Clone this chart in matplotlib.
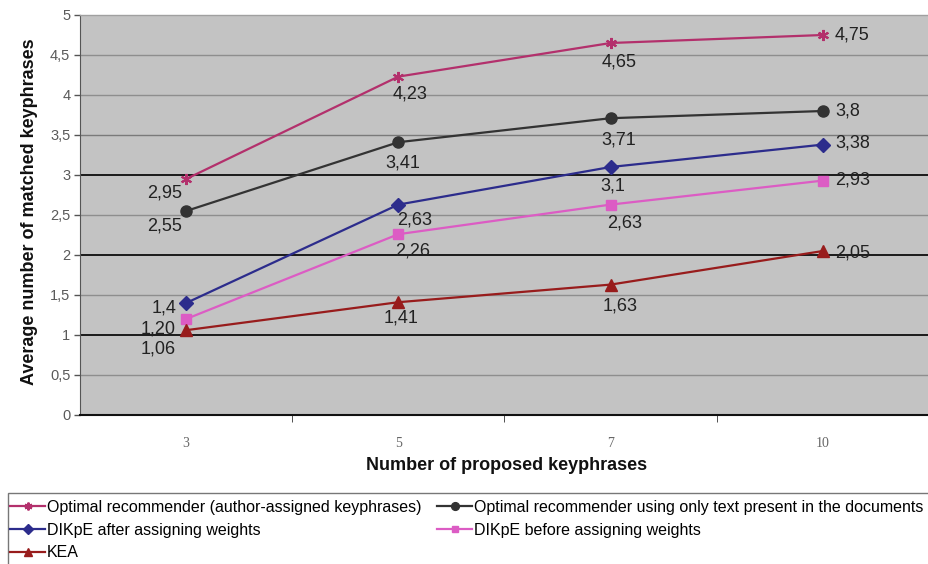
import matplotlib.pyplot as plt
from matplotlib.patches import Rectangle

plt.rcParams['font.family'] = ['Liberation Sans', 'DejaVu Sans']

# number of proposed keyphrases (categorical axis)
categories = ["3", "5", "7", "10"]

series_names = [
    "Optimal recommender (author-assigned keyphrases)",
    "Optimal recommender using only text present in the documents",
    "DIKpE after assigning weights",
    "DIKpE before assigning weights",
    "KEA",
]
optimal_author = [2.95, 4.23, 4.65, 4.75]
optimal_text = [2.55, 3.41, 3.71, 3.8]
dikpe_after = [1.4, 2.63, 3.1, 3.38]
dikpe_before = [1.20, 2.26, 2.63, 2.93]
kea = [1.06, 1.41, 1.63, 2.05]

# printed labels (some keep a trailing zero)
labels_author = ["2,95", "4,23", "4,65", "4,75"]
labels_text = ["2,55", "3,41", "3,71", "3,8"]
labels_after = ["1,4", "2,63", "3,1", "3,38"]
labels_before = ["1,20", "2,26", "2,63", "2,93"]
labels_kea = ["1,06", "1,41", "1,63", "2,05"]

colors = ["#b3306c", "#333333", "#2c2c8c", "#dc5cc4", "#981c1c"]
markers = [(6, 2, 0), "o", "D", "s", "^"]
msizes = [8, 8, 7, 6.5, 8]

# label placement in pixels (dx, dy downward, horizontal alignment)
offsets = [
    [(-22, 14, "center"), (12, 17, "center"), (8, 19, "center"), (12, 0, "left")],
    [(-22, 15, "center"), (4, 21, "center"), (8, 22, "center"), (12, 0, "left")],
    [(-10, 5, "right"), (16, 15, "center"), (2, 19, "center"), (12, -2, "left")],
    [(-10, 10, "right"), (14, 17, "center"), (14, 18, "center"), (12, -1, "left")],
    [(-10, 19, "right"), (3, 16, "center"), (10, 21, "center"), (12, 2, "left")],
]

values = [optimal_author, optimal_text, dikpe_after, dikpe_before, kea]
labels = [labels_author, labels_text, labels_after, labels_before, labels_kea]

fig = plt.figure(figsize=(9.29, 5.64), dpi=100)
ax = fig.add_axes([80 / 929, 149 / 564, 849 / 929, 400 / 564])
ax.set_facecolor("#c3c3c3")

x = range(len(categories))
handles = []
for vals, labs, offs, name, c, m, ms in zip(values, labels, offsets, series_names,
                                            colors, markers, msizes):
    h, = ax.plot(x, vals, color=c, lw=1.6, marker=m, markersize=ms,
                 markeredgewidth=1.5 if m == (6, 2, 0) else 1,
                 markerfacecolor=c, markeredgecolor=c, label=name, zorder=3)
    handles.append(h)
    for xi, v, lab, (dx, dy, ha) in zip(x, vals, labs, offs):
        ax.annotate(lab, (xi, v), xytext=(dx, -dy), textcoords="offset pixels",
                    ha=ha, va="center", fontsize=13, color="#222222", zorder=4)

ax.set_xlim(-0.5, 3.5)
ax.set_ylim(0, 5)

# horizontal gridlines: dark at whole numbers, lighter in between
for gy in [0.5, 1.5, 2.5, 3.5, 4, 4.5]:
    ax.axhline(gy, color="#7a7a7a" if gy == 3.5 else "#8e8e8e", lw=1, zorder=1)
for gy in [1, 2, 3]:
    ax.axhline(gy, color="#1a1a1a", lw=1.4, zorder=1)

ax.set_yticks([i * 0.5 for i in range(11)])
ax.set_yticklabels(["0", "0,5", "1", "1,5", "2", "2,5", "3", "3,5", "4", "4,5", "5"])
ax.tick_params(axis="y", direction="out", length=4, width=1, color="#555555",
               labelsize=10.5, labelcolor="#5a5a5a", pad=3)

ax.set_xticks(list(x))
ax.set_xticklabels(categories, family=["Liberation Serif"], fontsize=10, color="#666666")
ax.set_xticks([0.5, 1.5, 2.5], minor=True)
ax.tick_params(axis="x", which="major", length=0, pad=16)
ax.tick_params(axis="x", which="minor", direction="out", length=5, color="#333333")

for side in ["top", "right"]:
    ax.spines[side].set_color("#a0a0a0")
    ax.spines[side].set_linewidth(1)
ax.spines["left"].set_color("#555555")
ax.spines["bottom"].set_color("#111111")
ax.spines["bottom"].set_linewidth(1.5)

ax.set_xlabel("Number of proposed keyphrases", fontsize=13, fontweight="bold",
              color="#111111")
ax.xaxis.set_label_coords(0.503, -0.105)
ax.set_ylabel("Average number of matched keyphrases", fontsize=13,
              fontweight="bold", color="#111111")
ax.yaxis.set_label_coords(-0.049, 0.508)

# legend box, two columns of entries
fig.add_artist(Rectangle((8 / 929, -0.05), 0.995, (564 - 493) / 564 + 0.05,
                         transform=fig.transFigure, fill=False,
                         edgecolor="#777777", lw=1))
legend_kw = dict(loc="upper left", frameon=False, fontsize=11.5, borderpad=0,
                 borderaxespad=0, handlelength=2.2, handletextpad=0.12,
                 labelspacing=0.48, markerscale=0.7)
fig.legend([handles[0], handles[2], handles[4]],
           [series_names[0], series_names[2], series_names[4]],
           bbox_to_anchor=(10 / 929, (564 - 500) / 564), **legend_kw)
fig.legend([handles[1], handles[3]], [series_names[1], series_names[3]],
           bbox_to_anchor=(437 / 929, (564 - 500) / 564), **legend_kw)

fig.savefig("out.png", dpi=100)
